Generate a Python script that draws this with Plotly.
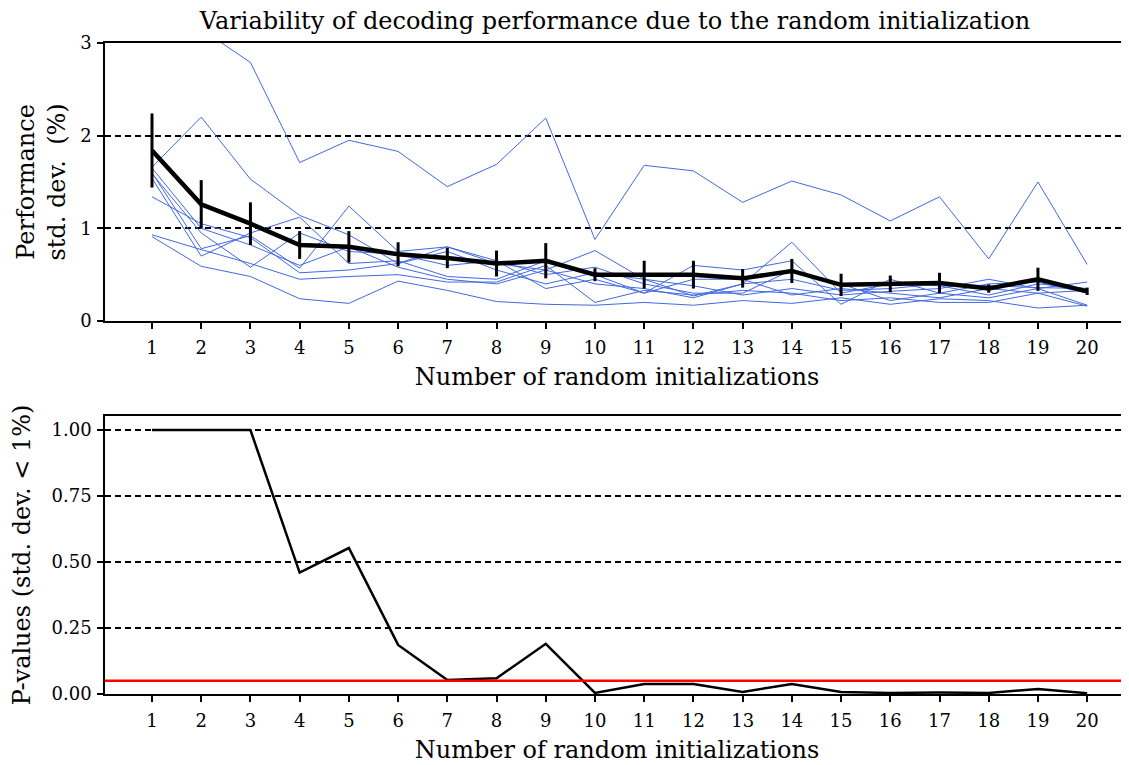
import plotly.graph_objects as go

n_init = list(range(1, 21))

# Individual subject curves (std. dev. of performance, %)
subj_a = [3.6, 3.15, 2.79, 1.71, 1.95, 1.83, 1.45, 1.69, 2.19, 0.88, 1.68, 1.62, 1.28, 1.51, 1.36, 1.08, 1.34, 0.67, 1.50, 0.61]
subj_b = [1.66, 2.20, 1.53, 1.14, 0.93, 0.62, 0.80, 0.62, 0.55, 0.76, 0.45, 0.27, 0.40, 0.85, 0.30, 0.40, 0.38, 0.28, 0.40, 0.35]
subj_c = [1.60, 0.78, 0.92, 0.57, 1.24, 0.75, 0.80, 0.65, 0.35, 0.45, 0.30, 0.60, 0.55, 0.65, 0.18, 0.45, 0.30, 0.25, 0.35, 0.17]
subj_d = [0.91, 0.59, 0.48, 0.24, 0.19, 0.43, 0.33, 0.21, 0.18, 0.17, 0.20, 0.17, 0.22, 0.19, 0.25, 0.18, 0.24, 0.22, 0.14, 0.17]
subj_e = [0.93, 0.77, 0.62, 0.45, 0.48, 0.50, 0.42, 0.42, 0.60, 0.20, 0.33, 0.28, 0.33, 0.30, 0.22, 0.25, 0.20, 0.20, 0.30, 0.16]
subj_f = [1.34, 1.05, 0.90, 0.52, 0.55, 0.62, 0.75, 0.55, 0.40, 0.52, 0.45, 0.38, 0.28, 0.35, 0.28, 0.32, 0.35, 0.45, 0.35, 0.42]
subj_g = [1.54, 0.70, 0.95, 1.12, 0.62, 0.65, 0.48, 0.45, 0.65, 0.50, 0.30, 0.45, 0.45, 0.28, 0.35, 0.30, 0.25, 0.35, 0.30, 0.33]
subj_h = [1.59, 0.95, 0.58, 0.95, 0.75, 0.72, 0.60, 0.65, 0.50, 0.58, 0.40, 0.30, 0.30, 0.55, 0.40, 0.22, 0.30, 0.40, 0.42, 0.30]
subj_i = [1.65, 1.00, 0.82, 0.60, 0.80, 0.58, 0.45, 0.40, 0.55, 0.40, 0.35, 0.25, 0.40, 0.45, 0.33, 0.35, 0.40, 0.38, 0.36, 0.35]
subjects = [subj_a, subj_b, subj_c, subj_d, subj_e, subj_f, subj_g, subj_h, subj_i]

mean_std = [1.84, 1.26, 1.05, 0.82, 0.80, 0.72, 0.68, 0.62, 0.65, 0.50, 0.50, 0.50, 0.46, 0.54, 0.39, 0.40, 0.41, 0.35, 0.45, 0.32]
err_std = [0.40, 0.26, 0.23, 0.15, 0.17, 0.13, 0.11, 0.14, 0.19, 0.07, 0.15, 0.15, 0.10, 0.13, 0.12, 0.09, 0.11, 0.045, 0.125, 0.04]

p_values = [1.0, 1.0, 1.0, 0.46, 0.553, 0.186, 0.053, 0.06, 0.19, 0.004, 0.038, 0.038, 0.008, 0.038, 0.008, 0.004, 0.006, 0.004, 0.019, 0.003]
p_threshold = 0.05

FONT = "DejaVu Serif"
blue = "#4169E1"

W, H = 1121, 757  # page body adds an 8px offset

fig = go.Figure()
for s in subjects:
    fig.add_trace(go.Scatter(x=n_init, y=s, mode="lines", line=dict(color=blue, width=1),
                             xaxis="x", yaxis="y", showlegend=False, hoverinfo="skip"))
fig.add_trace(go.Scatter(x=n_init, y=mean_std, mode="lines", line=dict(color="black", width=4.5),
                         error_y=dict(type="data", array=err_std, color="black", thickness=3, width=0),
                         xaxis="x", yaxis="y", showlegend=False))
fig.add_trace(go.Scatter(x=n_init, y=p_values, mode="lines", line=dict(color="black", width=2.5),
                         xaxis="x2", yaxis="y2", showlegend=False))
fig.add_shape(type="line", xref="x2 domain", yref="y2", x0=0, x1=1, y0=p_threshold, y1=p_threshold,
              line=dict(color="red", width=2.5), layer="above")

xr = [0.045, 20.85]
tickfont = dict(family=FONT, size=18, color="black")
titlefont = dict(family=FONT, size=24, color="black")
axis_common = dict(showline=True, linecolor="black", linewidth=1.5, ticks="outside", ticklen=6,
                   tickwidth=1.5, tickcolor="black", zeroline=False, tickfont=tickfont)

fig.update_layout(
    width=W, height=H,
    margin=dict(l=97, r=0, t=35, b=71),
    paper_bgcolor="white", plot_bgcolor="white",
    font=dict(family=FONT, color="black"),
    title=dict(text="Variability of decoding performance due to the random initialization",
               x=(615 - 8) / W, xref="container", xanchor="center", y=1 - 13 / H, yref="container",
               yanchor="middle", font=titlefont),
    xaxis=dict(domain=[0, 1], anchor="y", range=xr, tickmode="array", tickvals=n_init,
               mirror=True, showgrid=False, ticklabelstandoff=4,
               title=dict(text="Number of random initializations", font=titlefont, standoff=11),
               **axis_common),
    yaxis=dict(domain=[0.573, 1], anchor="x", range=[0, 3], tickmode="array", tickvals=[0, 1, 2, 3],
               showgrid=True, gridcolor="black", gridwidth=1.5, griddash="6px,4px", ticklabelstandoff=2,
               title=dict(text="Performance<br>std. dev.  (%)", font=titlefont, standoff=8),
               **axis_common),
    xaxis2=dict(domain=[0, 1], anchor="y2", range=xr, tickmode="array", tickvals=n_init,
                mirror=True, showgrid=False, ticklabelstandoff=4,
                title=dict(text="Number of random initializations", font=titlefont, standoff=11),
                **axis_common),
    yaxis2=dict(domain=[0, 0.427], anchor="x2", range=[0, 1.053], tickmode="array",
                tickvals=[0, 0.25, 0.5, 0.75, 1.0], ticktext=["0.00", "0.25", "0.50", "0.75", "1.00"],
                showgrid=True, gridcolor="black", gridwidth=1.5, griddash="6px,4px", ticklabelstandoff=2,
                title=dict(text="P-values (std. dev. < 1%)", font=titlefont, standoff=15),
                **axis_common),
)

fig.write_html("out.html")
